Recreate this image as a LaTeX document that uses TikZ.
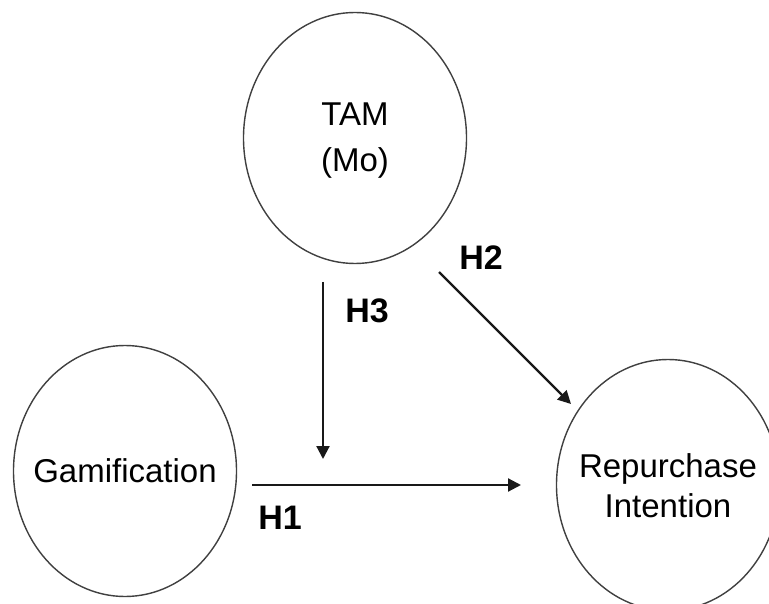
\documentclass[tikz,border=0pt]{standalone}
\usepackage{fontspec}
\setmainfont{Liberation Sans}
\usetikzlibrary{shapes.geometric,arrows.meta}
\begin{document}
\begin{tikzpicture}[x=1pt,y=-1pt,
  construct/.style={draw=black!75,line width=1.4pt,ellipse,inner sep=0pt,
    minimum width=223pt,minimum height=251pt},
  ctext/.style={align=center,inner sep=0pt,font=\fontsize{33pt}{40pt}\selectfont},
  path/.style={draw=black!90,line width=2.2pt,-{Triangle[width=13pt,length=13pt]}},
  hlabel/.style={font=\fontsize{34pt}{40pt}\selectfont\bfseries,inner sep=0pt}]
\useasboundingbox[fill=white] (0,0) rectangle (769,604);
\node[construct] (tam) at (355,138) {};
\node[construct] (gam) at (125,471) {};
\node[construct] (rep) at (668,485) {};
\node[ctext] (tamt) at (355,141) {TAM\\[6pt](Mo)};
\node[ctext] (gamt) at (125,471) {Gamification};
\node[ctext] (rept) at (668,486) {Repurchase\\Intention};
\coordinate (h3s) at (323,282);
\coordinate (h3e) at (323,459);
\coordinate (h2s) at (439,272);
\coordinate (h2e) at (571,404);
\coordinate (h1s) at (252,485);
\coordinate (h1e) at (521,485);
\draw[path] (h3s) -- (h3e);
\draw[path] (h2s) -- (h2e);
\draw[path] (h1s) -- (h1e);
\node[hlabel] (l3) at (367,311) {H3};
\node[hlabel] (l2) at (481,258) {H2};
\node[hlabel] (l1) at (280,518) {H1};
\end{tikzpicture}
\end{document}
